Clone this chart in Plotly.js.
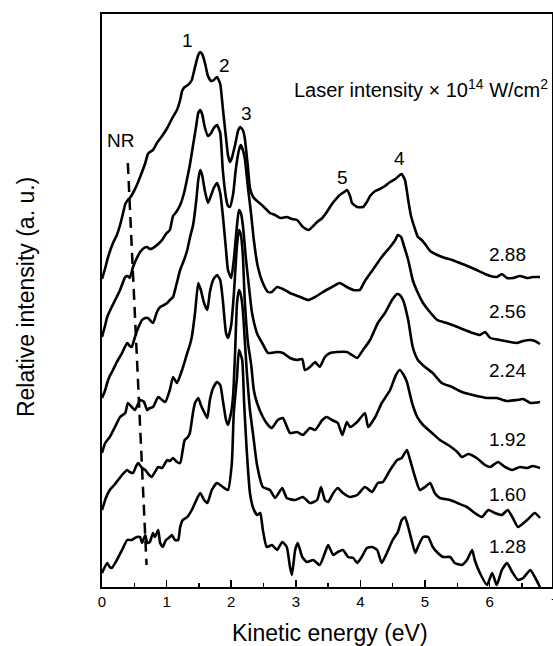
<!DOCTYPE html>
<html>
<head>
<meta charset="utf-8">
<script src="https://cdn.plot.ly/plotly-3.0.1.min.js"></script>
<style>html,body{margin:0;padding:0;background:#fff;}#chart{width:553px;height:646px;}</style>
</head>
<body>
<div id="chart"></div>
<script>
// Kinetic energy (eV) and relative intensity (a. u., offset stacked) for each laser intensity
const intensities = ["2.88", "2.56", "2.24", "1.92", "1.60", "1.28"];

const x288 = [0,0.05,0.09,0.17,0.23,0.28,0.33,0.36,0.40,0.43,0.48,0.54,0.59,0.67,0.71,0.74,0.79,0.85,0.93,1.01,1.08,1.16,1.21,1.24,1.28,1.33,1.36,1.39,1.44,1.49,1.52,1.55,1.59,1.64,1.69,1.73,1.78,1.83,1.87,1.92,1.95,1.98,2.01,2.06,2.11,2.14,2.18,2.21,2.26,2.29,2.34,2.40,2.49,2.60,2.68,2.76,2.86,2.94,3.02,3.11,3.20,3.27,3.33,3.41,3.48,3.56,3.61,3.68,3.75,3.79,3.84,3.87,3.95,4.04,4.10,4.15,4.23,4.30,4.38,4.46,4.54,4.61,4.64,4.69,4.74,4.78,4.85,4.89,4.95,5.00,5.08,5.19,5.31,5.42,5.50,5.62,5.73,5.80,5.93,6.01,6.11,6.19,6.27,6.36,6.47,6.58,6.67,6.78];
const y288 = [3.08,3.19,3.29,3.44,3.52,3.62,3.75,3.83,3.87,3.89,3.94,4.02,4.10,4.24,4.33,4.35,4.37,4.44,4.51,4.59,4.68,4.77,4.87,4.96,5.00,5.02,5.04,5.07,5.20,5.32,5.35,5.33,5.25,5.11,5.06,5.07,5.10,5.03,4.79,4.49,4.32,4.25,4.29,4.42,4.57,4.60,4.57,4.49,4.19,3.99,3.90,3.86,3.81,3.74,3.72,3.69,3.70,3.68,3.67,3.60,3.57,3.61,3.65,3.69,3.75,3.83,3.87,3.92,3.95,3.97,3.91,3.84,3.80,3.80,3.85,3.91,3.96,3.98,4.01,4.05,4.08,4.12,4.13,4.07,3.87,3.72,3.57,3.50,3.47,3.43,3.36,3.32,3.29,3.27,3.25,3.22,3.19,3.17,3.13,3.11,3.10,3.13,3.09,3.09,3.11,3.09,3.10,3.10];

const x256 = [0,0.05,0.08,0.15,0.22,0.28,0.36,0.40,0.43,0.48,0.54,0.59,0.65,0.70,0.74,0.79,0.87,0.93,0.99,1.05,1.10,1.15,1.21,1.27,1.32,1.36,1.41,1.46,1.49,1.52,1.55,1.59,1.64,1.69,1.73,1.78,1.83,1.87,1.92,1.95,1.98,2.03,2.07,2.12,2.15,2.18,2.21,2.26,2.31,2.35,2.41,2.49,2.57,2.63,2.71,2.80,2.91,3.07,3.19,3.30,3.42,3.56,3.68,3.79,3.89,3.99,4.07,4.19,4.33,4.46,4.54,4.58,4.63,4.67,4.74,4.81,4.89,4.97,5.05,5.19,5.34,5.54,5.74,5.85,5.93,6.01,6.16,6.32,6.42,6.52,6.63,6.70,6.78];
const y256 = [2.50,2.62,2.70,2.80,2.89,2.97,3.10,3.11,3.09,3.20,3.29,3.35,3.39,3.40,3.38,3.39,3.43,3.47,3.53,3.57,3.71,3.75,3.82,3.94,4.09,4.22,4.42,4.62,4.74,4.77,4.73,4.60,4.51,4.54,4.59,4.62,4.54,4.17,3.89,3.81,3.80,3.93,4.17,4.37,4.42,4.37,4.29,3.99,3.72,3.47,3.21,3.04,2.95,2.95,3.00,2.98,2.94,2.90,2.87,2.90,2.95,3.00,3.04,3.00,2.97,2.97,3.06,3.17,3.30,3.40,3.47,3.52,3.50,3.42,3.27,3.07,2.94,2.84,2.77,2.67,2.64,2.59,2.54,2.52,2.55,2.49,2.47,2.45,2.44,2.46,2.47,2.46,2.43];

const x224 = [0,0.05,0.08,0.12,0.17,0.23,0.31,0.39,0.43,0.46,0.51,0.56,0.62,0.67,0.71,0.79,0.85,0.90,0.96,1.01,1.05,1.10,1.15,1.21,1.27,1.32,1.36,1.41,1.46,1.49,1.52,1.55,1.59,1.64,1.69,1.73,1.78,1.83,1.87,1.92,1.95,2.00,2.04,2.09,2.12,2.15,2.18,2.23,2.28,2.32,2.37,2.41,2.48,2.57,2.71,2.80,2.91,3.02,3.10,3.14,3.22,3.30,3.37,3.45,3.53,3.64,3.79,3.87,3.95,4.04,4.15,4.27,4.38,4.49,4.57,4.61,4.66,4.74,4.81,4.89,5.00,5.12,5.26,5.42,5.57,5.74,5.96,6.11,6.27,6.42,6.52,6.63,6.78];
const y224 = [1.89,1.97,2.04,2.11,2.17,2.25,2.34,2.44,2.41,2.40,2.50,2.59,2.67,2.69,2.69,2.64,2.75,2.80,2.82,2.84,2.87,2.90,3.02,3.17,3.27,3.37,3.49,3.62,3.87,4.07,4.17,4.12,3.97,3.84,3.92,3.99,4.04,3.94,3.72,3.37,3.17,3.09,3.27,3.62,3.77,3.74,3.62,3.27,2.97,2.75,2.60,2.52,2.44,2.34,2.35,2.34,2.29,2.27,2.28,2.17,2.20,2.25,2.20,2.30,2.34,2.35,2.35,2.32,2.29,2.37,2.47,2.64,2.74,2.87,2.93,2.92,2.87,2.67,2.40,2.27,2.20,2.14,2.04,2.00,1.95,1.92,1.89,1.89,1.86,1.87,1.88,1.84,1.85];

const x192 = [0,0.05,0.12,0.20,0.28,0.36,0.40,0.46,0.51,0.59,0.65,0.70,0.74,0.79,0.87,0.93,0.98,1.05,1.10,1.16,1.24,1.32,1.36,1.39,1.44,1.49,1.53,1.58,1.63,1.67,1.72,1.78,1.83,1.87,1.92,1.95,2.00,2.04,2.09,2.12,2.15,2.18,2.21,2.26,2.31,2.35,2.40,2.49,2.57,2.63,2.72,2.80,2.91,3.02,3.11,3.22,3.30,3.41,3.48,3.56,3.65,3.72,3.79,3.84,3.95,4.07,4.12,4.23,4.33,4.46,4.55,4.61,4.67,4.72,4.80,4.88,4.97,5.11,5.23,5.36,5.50,5.57,5.67,5.80,5.93,6.01,6.13,6.24,6.35,6.47,6.58,6.67,6.78];
const y192 = [1.34,1.44,1.50,1.60,1.70,1.74,1.84,1.80,1.77,1.87,1.85,1.77,1.79,1.80,1.90,1.87,1.85,1.97,2.10,2.04,2.17,2.34,2.42,2.50,2.74,3.04,2.97,2.84,2.77,2.95,3.07,3.12,3.07,2.87,2.54,2.49,2.62,2.92,3.42,3.57,3.52,3.32,2.87,2.44,2.22,1.97,1.84,1.70,1.62,1.59,1.67,1.69,1.54,1.55,1.52,1.59,1.57,1.67,1.70,1.67,1.64,1.52,1.65,1.60,1.65,1.74,1.60,1.70,1.84,1.97,2.12,2.17,2.12,2.05,1.84,1.70,1.62,1.54,1.47,1.42,1.35,1.30,1.33,1.29,1.22,1.20,1.25,1.20,1.17,1.20,1.19,1.21,1.19];

const x160 = [0,0.06,0.12,0.19,0.25,0.31,0.39,0.43,0.48,0.53,0.56,0.62,0.67,0.73,0.77,0.82,0.87,0.93,1.01,1.05,1.10,1.16,1.21,1.25,1.28,1.33,1.36,1.41,1.44,1.49,1.53,1.58,1.63,1.67,1.72,1.78,1.83,1.87,1.92,1.95,2.00,2.03,2.06,2.09,2.12,2.15,2.18,2.21,2.24,2.29,2.34,2.40,2.49,2.60,2.68,2.79,2.86,2.99,3.11,3.22,3.33,3.39,3.45,3.50,3.58,3.65,3.73,3.84,3.95,4.07,4.18,4.27,4.35,4.46,4.57,4.64,4.72,4.77,4.85,4.92,5.00,5.08,5.15,5.23,5.39,5.50,5.65,5.77,5.88,5.98,6.08,6.19,6.28,6.36,6.44,6.58,6.70,6.78];
const y160 = [0.77,0.89,0.97,1.02,1.07,1.12,1.17,1.15,1.14,1.21,1.24,1.19,1.17,1.12,1.10,1.15,1.20,1.19,1.27,1.26,1.29,1.25,1.24,1.37,1.47,1.50,1.54,1.75,1.84,1.89,1.82,1.75,1.69,1.87,1.99,2.05,2.02,1.87,1.67,1.62,1.75,1.92,2.34,2.84,2.97,2.92,2.77,2.47,2.17,1.77,1.52,1.22,1.00,0.97,0.89,0.99,0.89,0.87,0.90,0.84,0.87,1.00,0.87,0.85,0.94,0.99,0.94,0.90,0.92,1.00,0.95,1.04,1.05,1.17,1.27,1.29,1.37,1.27,1.09,0.97,1.00,1.04,0.94,0.89,0.87,0.84,0.80,0.74,0.70,0.77,0.74,0.72,0.77,0.69,0.60,0.67,0.74,0.69];

const x128 = [0,0.08,0.12,0.15,0.23,0.31,0.39,0.46,0.54,0.59,0.62,0.67,0.70,0.74,0.79,0.82,0.87,0.90,0.94,0.99,1.05,1.08,1.13,1.18,1.21,1.25,1.32,1.39,1.44,1.52,1.58,1.63,1.70,1.78,1.87,1.95,2.01,2.04,2.09,2.12,2.17,2.20,2.24,2.29,2.34,2.40,2.45,2.49,2.55,2.63,2.71,2.79,2.86,2.91,2.94,2.99,3.03,3.10,3.17,3.27,3.37,3.45,3.50,3.58,3.65,3.73,3.81,3.89,3.95,4.02,4.10,4.18,4.26,4.33,4.41,4.50,4.58,4.64,4.69,4.74,4.80,4.85,4.89,4.97,5.05,5.12,5.20,5.28,5.39,5.46,5.57,5.65,5.73,5.77,5.85,5.96,6.04,6.11,6.19,6.27,6.35,6.44,6.52,6.63,6.70,6.78];
const y128 = [0.14,0.24,0.20,0.19,0.27,0.37,0.47,0.47,0.50,0.50,0.44,0.52,0.44,0.45,0.54,0.50,0.57,0.44,0.40,0.47,0.50,0.52,0.47,0.47,0.60,0.67,0.70,0.77,0.84,0.94,0.87,0.84,0.97,1.04,1.00,0.97,1.24,1.74,2.10,2.37,2.27,1.84,1.37,0.94,0.79,0.72,0.74,0.57,0.40,0.42,0.37,0.45,0.40,0.20,0.12,0.37,0.44,0.30,0.25,0.27,0.22,0.34,0.42,0.32,0.35,0.37,0.30,0.29,0.24,0.30,0.39,0.40,0.37,0.24,0.34,0.47,0.55,0.67,0.70,0.60,0.45,0.34,0.40,0.50,0.50,0.40,0.34,0.30,0.30,0.24,0.22,0.27,0.37,0.27,0.14,0.02,0.14,0.02,0.17,0.24,0.15,0.07,0.09,0.17,0.10,0.00];

// NR (non-resonant) guide line
const nrX = [0.40, 0.69];
const nrY = [4.24, 0.22];

// Peak labels
const peakNames = ["1", "2", "3", "4", "5"];
const peakX = [1.33, 1.90, 2.23, 4.61, 3.72];
const peakY = [5.47, 5.22, 4.74, 4.29, 4.10];

// Intensity label heights
const labelY = [3.33, 2.76, 2.17, 1.48, 0.93, 0.41];

const xTicks = [0, 1, 2, 3, 4, 5, 6, 7];

const series = [[x288,y288],[x256,y256],[x224,y224],[x192,y192],[x160,y160],[x128,y128]];
const FONT = "Arial, 'Liberation Sans', Helvetica, sans-serif";

const traces = series.map((s, i) => ({
  x: s[0], y: s[1], type: 'scatter', mode: 'lines', name: intensities[i],
  line: {color: '#000', width: 2.6, shape: 'spline', smoothing: 0.5},
  hoverinfo: 'skip', showlegend: false
}));
traces.push({
  x: nrX, y: nrY, type: 'scatter', mode: 'lines', showlegend: false, hoverinfo: 'skip',
  line: {color: '#000', width: 2.5, dash: '11px,7px'}
});

const annotations = [];
peakNames.forEach((t, i) => annotations.push({
  x: peakX[i], y: peakY[i], xref: 'x', yref: 'y', text: t, showarrow: false,
  font: {family: FONT, size: 19, color: '#000'}
}));
annotations.push({x: 0.28, y: 4.47, xref: 'x', yref: 'y', text: 'NR', showarrow: false,
  font: {family: FONT, size: 19, color: '#000'}});
intensities.forEach((t, i) => annotations.push({
  x: 6.27, y: labelY[i], xref: 'x', yref: 'y', text: t, showarrow: false,
  font: {family: FONT, size: 19, color: '#000'}
}));
annotations.push({x: 2.94, y: 4.99, xref: 'x', yref: 'y', xanchor: 'left',
  text: 'Laser intensity × 10<sup>14</sup> W/cm<sup>2</sup>', showarrow: false,
  font: {family: FONT, size: 20, color: '#000'}});
// partially visible "7" tick label at the right edge (x = 7 lies just outside the frame)
annotations.push({x: 1, y: 0, xref: 'paper', yref: 'paper', xanchor: 'left', yanchor: 'middle',
  xshift: -3, yshift: -16, text: String(xTicks[7]), showarrow: false,
  font: {family: FONT, size: 15, color: '#000'}});
// axis titles
annotations.push({x: 0.507, y: 0, xref: 'paper', yref: 'paper', yanchor: 'middle', yshift: -46,
  text: 'Kinetic energy (eV)', showarrow: false, font: {family: FONT, size: 23, color: '#000'}});
annotations.push({x: 0, y: 0.506, xref: 'paper', yref: 'paper', xanchor: 'center', xshift: -76,
  textangle: -90, text: 'Relative intensity (a. u.)', showarrow: false,
  font: {family: FONT, size: 23, color: '#000'}});

const layout = {
  width: 553, height: 646,
  margin: {l: 102, r: 1, t: 14, b: 59},
  paper_bgcolor: '#fff', plot_bgcolor: '#fff',
  font: {family: FONT, size: 15, color: '#000'},
  xaxis: {
    range: [0, 6.966], showgrid: false, zeroline: false,
    showline: true, linecolor: '#000', linewidth: 1.6, mirror: true,
    tickmode: 'array', tickvals: xTicks, ticktext: xTicks.map(String),
    ticks: 'inside', ticklen: 7, tickwidth: 1.5, tickcolor: '#000',
    minor: {dtick: 0.5, ticks: 'inside', ticklen: 4, tickwidth: 1.5, tickcolor: '#000', showgrid: false},
    tickfont: {family: FONT, size: 15, color: '#000'}
  },
  yaxis: {
    range: [0, 5.73], showgrid: false, zeroline: false,
    showline: true, linecolor: '#000', linewidth: 1.6, mirror: true,
    ticks: '', showticklabels: false
  },
  annotations: annotations
};

Plotly.newPlot('chart', traces, layout, {displayModeBar: false, staticPlot: true});
</script>
</body>
</html>
